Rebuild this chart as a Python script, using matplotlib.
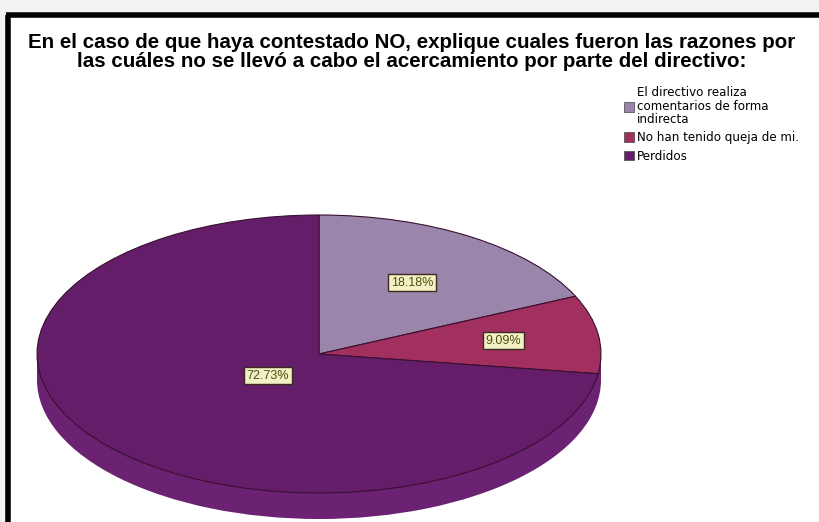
import matplotlib
matplotlib.use("Agg")
import matplotlib.pyplot as plt
from matplotlib.patches import Rectangle, Patch
import numpy as np

# razones por las que no hubo acercamiento del directivo
categorias = ["El directivo realiza\ncomentarios de forma\nindirecta",
              "No han tenido queja de mi.",
              "Perdidos"]
porcentajes = [18.18, 9.09, 72.73]
colores = ["#9a86ab", "#a2305f", "#641d69"]
color_lado = "#6c2272"
titulo = ("En el caso de que haya contestado NO, explique cuales fueron las razones por\n"
          "las cuáles no se llevó a cabo el acercamiento por parte del directivo:")

W, H = 820, 522
fig = plt.figure(figsize=(W / 100, H / 100), dpi=100)
fig.patch.set_facecolor("#f2f2f2")

# marco blanco con borde negro (izquierda y arriba)
fondo = fig.add_axes([0, 0, 1, 1])
fondo.set_xlim(0, W)
fondo.set_ylim(H, 0)
fondo.axis("off")
fondo.add_patch(Rectangle((8, 15), W, H, facecolor="white", edgecolor="none"))
fondo.plot([8, 8], [H, 15], color="black", lw=4, solid_capstyle="butt")
fondo.plot([6, W], [15, 15], color="black", lw=4, solid_capstyle="butt")

fig.text(0.502, 1 - 52 / H, titulo, ha="center", va="center", fontsize=14.8,
         fontweight="bold", family="Liberation Sans", linespacing=0.95)

# pastel inclinado: elipse en ejes con aspecto libre
x0, x1 = 37, 601
ytop, ycen, ybot = 215, 354, 519
semi_b = ycen - ytop
prof = (ybot - (ycen + semi_b)) / semi_b
ax = fig.add_axes([x0 / W, 1 - ybot / H, (x1 - x0) / W, (ybot - ytop) / H])
ax.axis("off")

# pared lateral (elipse desplazada + franja)
ax.pie([1], colors=[color_lado], center=(0, -prof), radius=1,
       wedgeprops=dict(linewidth=0))
ax.add_patch(Rectangle((-1, -prof), 2, prof, facecolor=color_lado,
                       edgecolor="none", zorder=1))

wedges, _ = ax.pie(porcentajes, colors=colores, startangle=90, counterclock=False,
                   radius=1, wedgeprops=dict(edgecolor="#3a0f30", linewidth=0.8))
for w in wedges:
    w.set_zorder(3)
ax.set_aspect("auto")
ax.set_xlim(-1, 1)
ax.set_ylim(-1 - prof, 1)

radios = [0.61, 0.66, 0.24]
for w, p, r in zip(wedges, porcentajes, radios):
    ang = np.deg2rad((w.theta1 + w.theta2) / 2)
    ax.text(r * np.cos(ang), r * np.sin(ang), f"{p:.2f}%", ha="center", va="center",
            fontsize=9, color="#4a5010", family="Liberation Sans", zorder=5,
            bbox=dict(boxstyle="square,pad=0.2", facecolor="#f2f0c4",
                      edgecolor="#3a2a20", linewidth=1.0))

manejadores = [Patch(facecolor=c, edgecolor="#444444", linewidth=0.5) for c in colores]
leyenda = fig.legend(manejadores, categorias, loc="upper left",
                     bbox_to_anchor=(624 / W, 1 - 86 / H),
                     frameon=False, handlelength=0.85, handleheight=0.85,
                     handletextpad=0.25, labelspacing=0.45, borderpad=0, borderaxespad=0,
                     prop=dict(family="DejaVu Sans", size=8.6))
for t in leyenda.get_texts():
    t.set_linespacing(1.05)

fig.savefig("out.png", dpi=100, facecolor=fig.get_facecolor())
